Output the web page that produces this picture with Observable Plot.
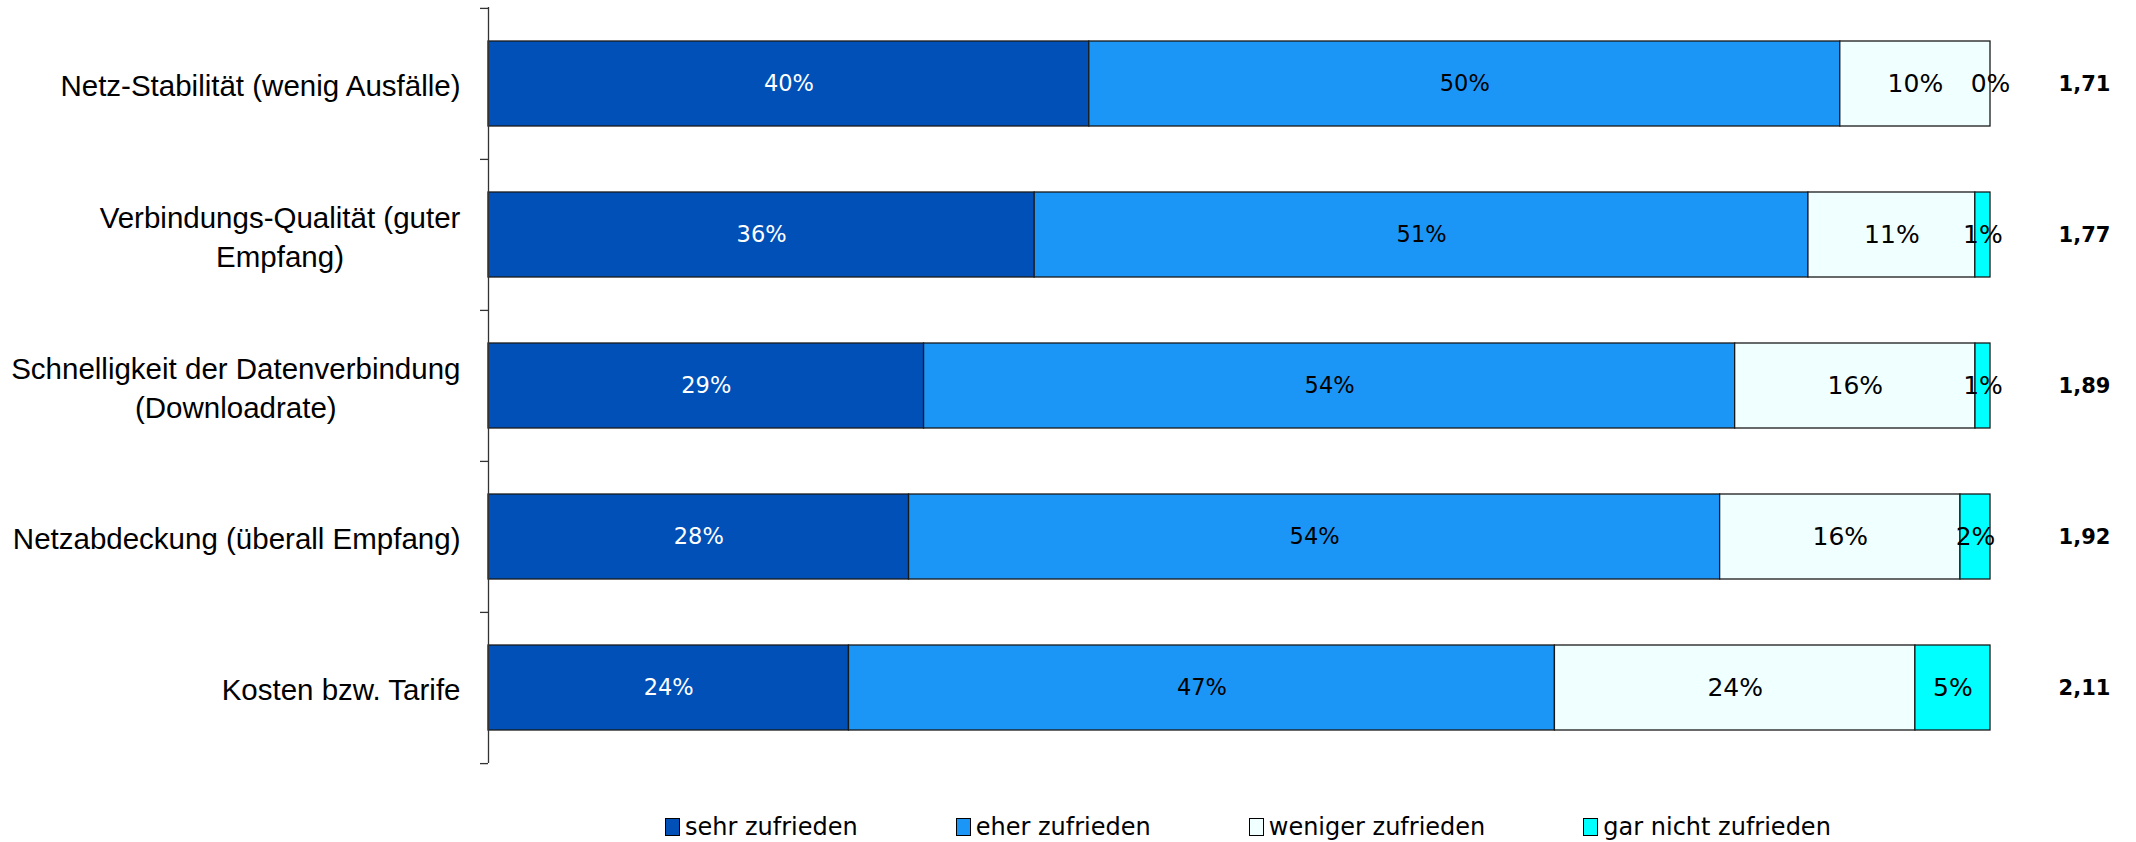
<!DOCTYPE html>
<html><head><meta charset="utf-8">
<script src="https://cdn.jsdelivr.net/npm/d3@7"></script>
<script src="https://cdn.jsdelivr.net/npm/@observablehq/plot@0.6"></script>
<style>
body{margin:0;background:#fff;}
#legend{display:flex;gap:98px;padding-left:665px;font-family:"DejaVu Sans";font-size:24px;height:74px;align-items:center;color:#000;}
.item{display:flex;align-items:center;gap:5px;}
.sw{width:15px;height:18px;border:1px solid #000;box-sizing:border-box;}
</style></head><body><div id="chart"></div><div id="legend"></div>
<script>
const categories = ["Netz-Stabilität (wenig Ausfälle)", "Verbindungs-Qualität (guter\nEmpfang)", "Schnelligkeit der Datenverbindung\n(Downloadrate)", "Netzabdeckung (überall Empfang)", "Kosten bzw. Tarife"];
const series = ["sehr zufrieden", "eher zufrieden", "weniger zufrieden", "gar nicht zufrieden"];
const sehr = [40, 36, 29, 28, 24];
const eher = [50, 51, 54, 54, 47];
const weniger = [10, 11, 16, 16, 24];
const garNicht = [0, 1, 1, 2, 5];
const means = ["1,71", "1,77", "1,89", "1,92", "2,11"];
const colors = ["#0050B8", "#1C96F6", "#F0FFFF", "#00FFFF"];

const seriesValues = [sehr, eher, weniger, garNicht];
const rows = [];
categories.forEach((cat, i) => {
  series.forEach((s, j) => rows.push({cat, series: s, idx: j, value: seriesValues[j][i]}));
});
const meanRows = categories.map((cat, i) => ({cat, mean: means[i]}));

const W = 2136, H = 790, mt = 7, mb = 27, ml = 488, mr = 146;
const step = (H - mt - mb) / categories.length;

const chart = Plot.plot({
  width: W, height: H,
  marginTop: mt, marginBottom: mb, marginLeft: ml, marginRight: mr,
  x: {axis: null, domain: [0, 1]},
  y: {domain: categories, paddingInner: 0.44, paddingOuter: 0.22, label: null, axis: null},
  color: {domain: series, range: colors},
  style: {fontFamily: "'Liberation Sans', Arial, sans-serif", fontSize: "29px", background: "#fff"},
  marks: [
    Plot.barX(rows, Plot.stackX({offset: "normalize", order: null, x: "value", y: "cat", fill: "series", stroke: "#1a1a1a", strokeWidth: 1.3})),
    Plot.text(rows, Plot.stackX({offset: "normalize", order: null, x: "value", y: "cat", z: "series",
      text: d => d.value + "%",
      fill: d => d.idx === 0 ? "white" : "black",
      fontSize: d => d.idx < 2 ? 22.5 : 25,
      fontFamily: "DejaVu Sans"})),
    Plot.text(meanRows, {x: 1, y: "cat", text: "mean", dx: 94, textAnchor: "middle", fontWeight: "bold", fontSize: 21, fontFamily: "DejaVu Sans", fill: "black"}),
    Plot.ruleX([0], {stroke: "#333", strokeWidth: 1.3}),
    Plot.ruleY(categories, {y: d => d, x1: 0, x2: 0, insetLeft: -8, dy: -step / 2, stroke: "#333", strokeWidth: 1.3}),
    Plot.ruleY(categories.slice(-1), {y: d => d, x1: 0, x2: 0, insetLeft: -8, dy: step / 2, stroke: "#333", strokeWidth: 1.3}),
    Plot.axisY({tickSize: 0, tickPadding: 28, fontSize: 29.5, lineHeight: 1.32, fill: "black"})
  ]
});
document.getElementById("chart").appendChild(chart);

// center multi-line labels within their right-aligned block
chart.querySelectorAll('g[aria-label="y-axis tick label"] text').forEach(t => {
  const w = t.getBBox().width;
  t.setAttribute("text-anchor", "middle");
  const tr = t.getAttribute("transform") || "";
  t.setAttribute("transform", tr + ` translate(${-w / 2},0)`);
});

const legend = document.getElementById("legend");
series.forEach((s, j) => {
  const item = document.createElement("div");
  item.className = "item";
  const sw = document.createElement("span");
  sw.className = "sw";
  sw.style.background = colors[j];
  const lab = document.createElement("span");
  lab.textContent = s;
  item.appendChild(sw); item.appendChild(lab);
  legend.appendChild(item);
});
</script></body></html>
